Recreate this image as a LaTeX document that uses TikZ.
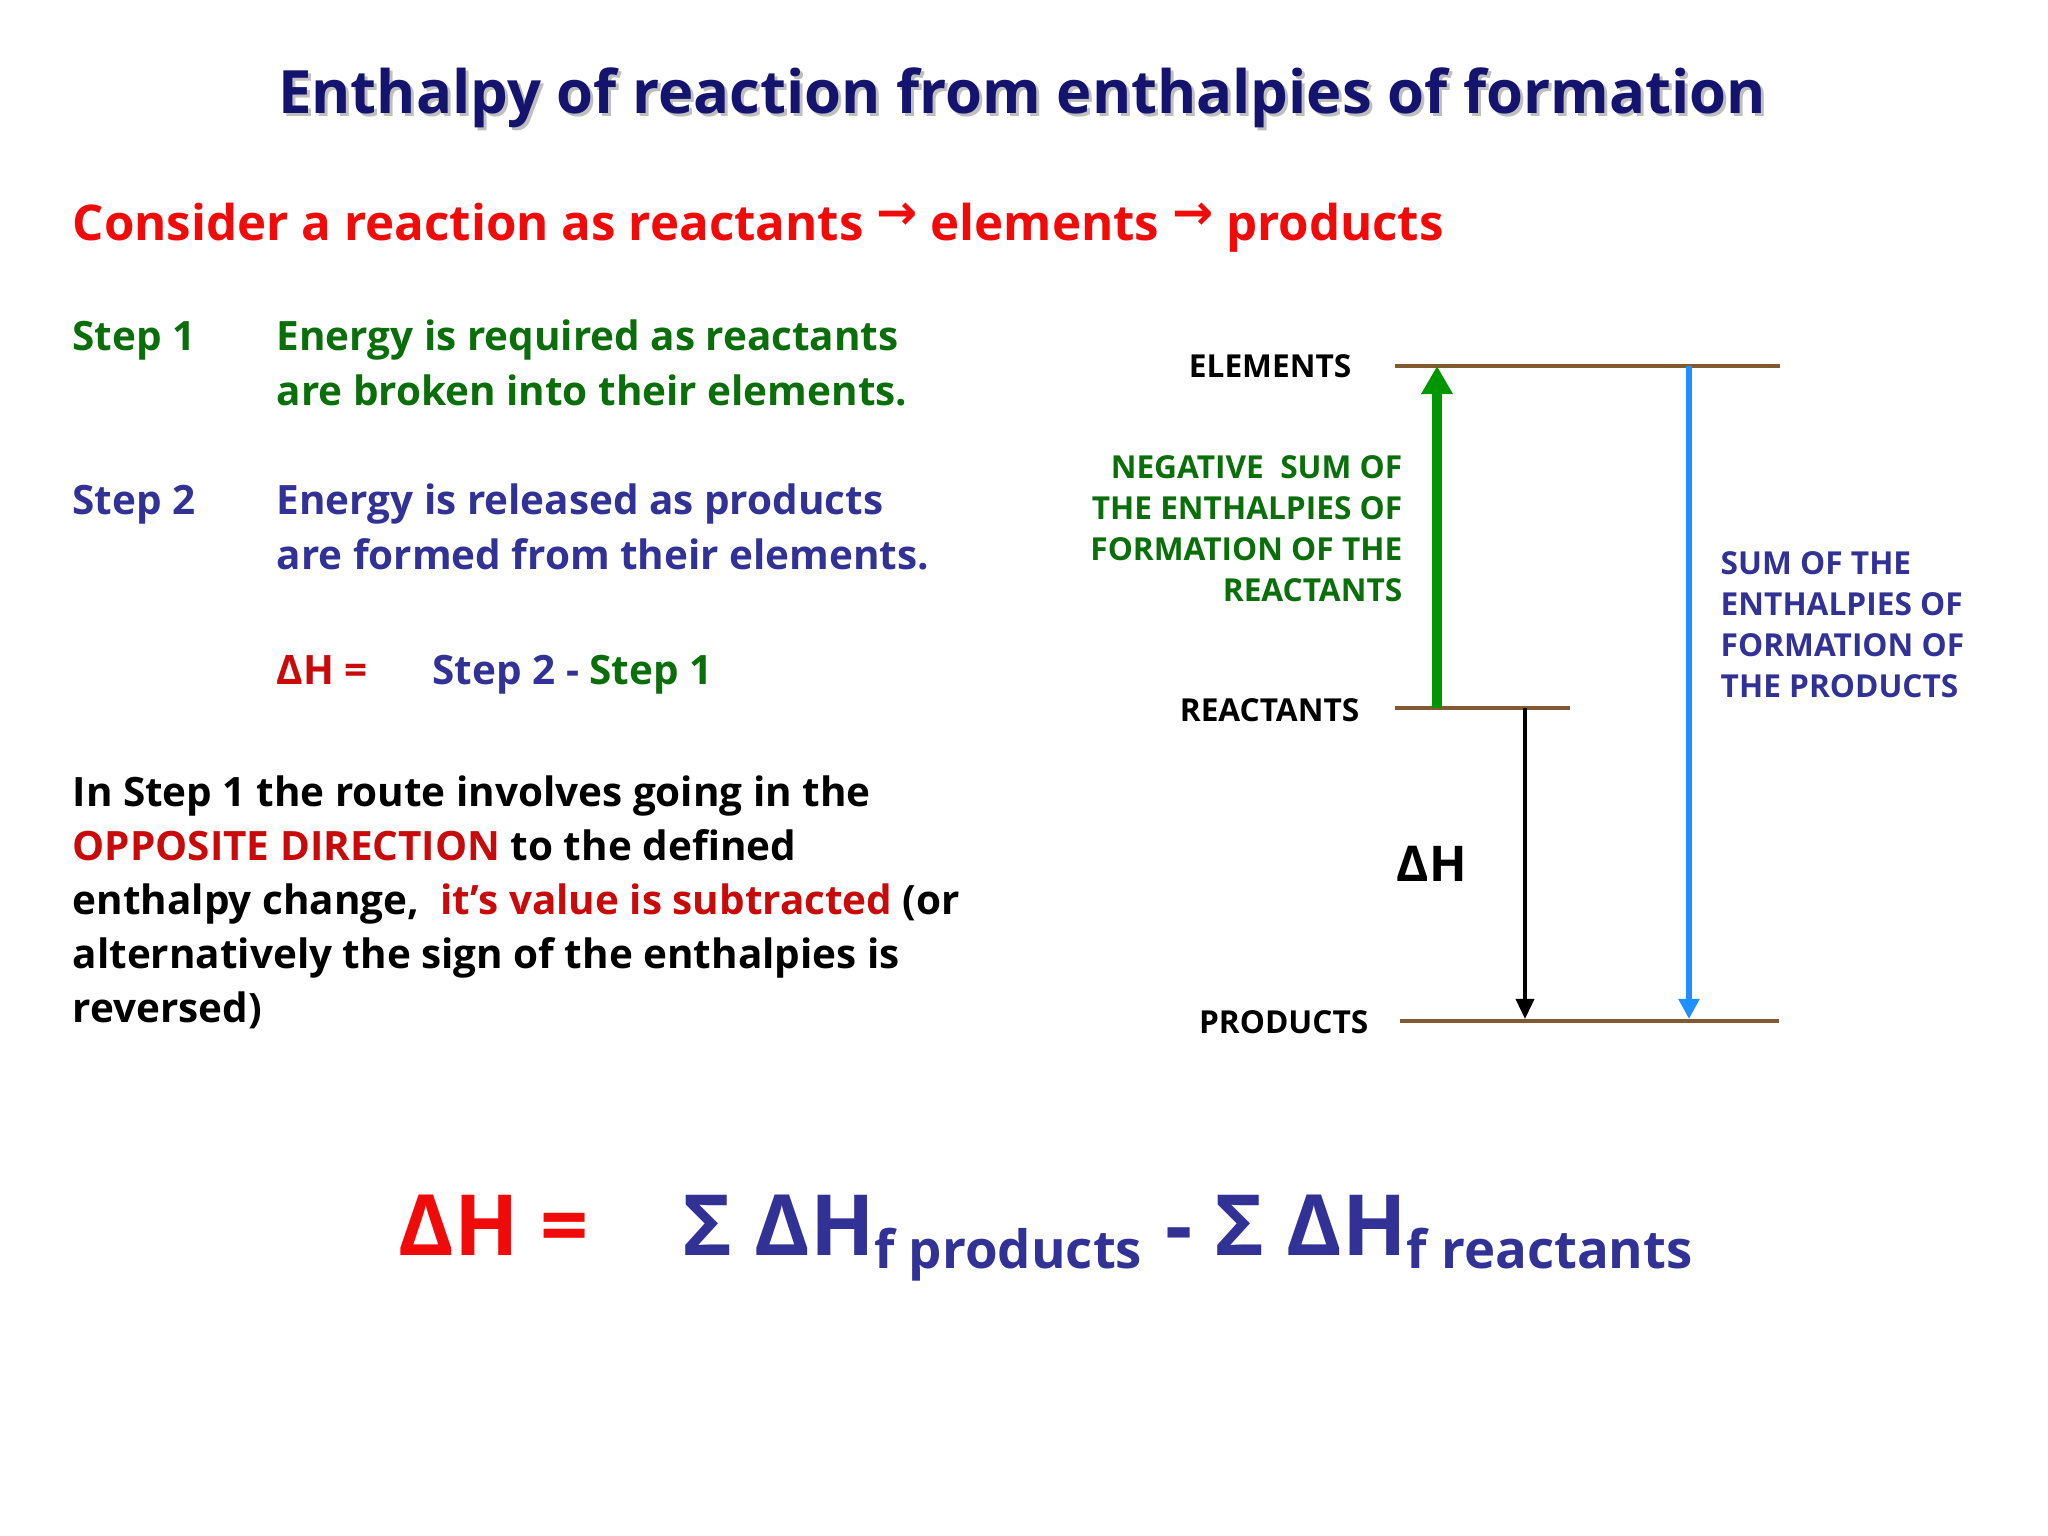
\documentclass[tikz,border=0pt]{standalone}
\usepackage{fontspec}
\setmainfont{Open Sans}
\newfontfamily\arrowfont{DejaVu Sans}
\usetikzlibrary{arrows.meta}
\definecolor{navy}{RGB}{20,20,110}
\definecolor{tred}{RGB}{240,10,10}
\definecolor{dred}{RGB}{200,10,10}
\definecolor{tgreen}{RGB}{10,110,10}
\definecolor{tblue}{RGB}{50,50,150}
\definecolor{brownl}{RGB}{130,90,50}
\definecolor{lblue}{RGB}{30,144,255}
\definecolor{agreen}{RGB}{0,150,0}
\begin{document}
\begin{tikzpicture}[x=0.01cm,y=-0.01cm,
  txt/.style={anchor=base west,inner sep=0,font=\bfseries\fontsize{11.5}{14}\selectfont},
  lab/.style={inner sep=0,font=\bfseries\fontsize{9}{12}\selectfont},
  lvl/.style={draw=brownl,line width=1.4pt}]
\useasboundingbox[fill=white] (0,0) rectangle (2048,1536);
\node[inner sep=0,text=gray!50,font=\bfseries\fontsize{17}{20}\selectfont] at (1025,101) {Enthalpy of reaction from enthalpies of formation};
\node (title)[inner sep=0,text=navy,font=\bfseries\fontsize{17}{20}\selectfont] at (1022,98) {Enthalpy of reaction from enthalpies of formation};
\node (cons)[txt,text=tred,font=\bfseries\fontsize{14}{17}\selectfont] at (72,240) {Consider a reaction as reactants \raisebox{3pt}{\arrowfont →} elements \raisebox{3pt}{\arrowfont →} products};
\node (s1)[txt,text=tgreen] at (72,350) {Step 1};
\node (s1a)[txt,text=tgreen] at (276,350) {Energy is required as reactants};
\node (s1b)[txt,text=tgreen] at (276,405) {are broken into their elements.};
\node (s2)[txt,text=tblue] at (72,514) {Step 2};
\node (s2a)[txt,text=tblue] at (276,514) {Energy is released as products};
\node (s2b)[txt,text=tblue] at (276,569) {are formed from their elements.};
\node (dh)[txt,text=dred] at (276,684) {ΔH =};
\node (dh2)[txt,text=tblue] at (432,684) {Step 2 - \textcolor{tgreen}{Step 1}};
\node (p1)[txt] at (72,806) {In Step 1 the route involves going in the};
\node (p2)[txt] at (72,860) {\textcolor{dred}{OPPOSITE DIRECTION} to the defined};
\node (p3)[txt] at (72,914) {enthalpy change,\ \ \textcolor{dred}{it’s value is subtracted} (or};
\node (p4)[txt] at (72,968) {alternatively the sign of the enthalpies is};
\node (p5)[txt] at (72,1022) {reversed)};
\coordinate (e1) at (1395,366); \coordinate (e2) at (1780,366);
\coordinate (r1) at (1395,708); \coordinate (r2) at (1570,708);
\coordinate (q1) at (1400,1021); \coordinate (q2) at (1779,1021);
\draw[lvl] (e1)--(e2); \draw[lvl] (r1)--(r2); \draw[lvl] (q1)--(q2);
\node (le)[lab,anchor=east] at (1352,366) {ELEMENTS};
\node (lr)[lab,anchor=east] at (1360,710) {REACTANTS};
\node (lp)[lab,anchor=east] at (1369,1022) {PRODUCTS};
\coordinate (ga) at (1437,708); \coordinate (gb) at (1437,366);
\coordinate (ba) at (1525,708); \coordinate (bb) at (1525,1019);
\coordinate (ua) at (1689,366); \coordinate (ub) at (1689,1019);
\draw[agreen,line width=2.6pt,-{Triangle[length=8pt,width=8.5pt]}] (ga)--(gb);
\draw[black,line width=1.1pt,-{Triangle[length=5.7pt,width=5.1pt]}] (ba)--(bb);
\draw[lblue,line width=1.7pt,-{Triangle[length=5.7pt,width=5.7pt]}] (ua)--(ub);
\node (gl)[lab,anchor=north east,align=right,text=tgreen,font=\bfseries\fontsize{9}{11.6}\selectfont] at (1403,455) {NEGATIVE\ \ SUM OF\\THE ENTHALPIES OF\\FORMATION OF THE\\REACTANTS};
\node (bl)[lab,anchor=north west,align=left,text=tblue,font=\bfseries\fontsize{9}{11.6}\selectfont] at (1720,551) {SUM OF THE\\ENTHALPIES OF\\FORMATION OF\\THE PRODUCTS};
\node (dhl)[lab,font=\bfseries\fontsize{14}{17}\selectfont] at (1432,864) {ΔH};
\node (f1)[txt,text=tred,font=\bfseries\fontsize{24}{28}\selectfont] at (398,1255) {ΔH =};
\node (f2)[txt,text=tblue,font=\bfseries\fontsize{24}{28}\selectfont] at (682,1255) {Σ ΔH\textsubscript{\fontsize{15}{15}\selectfont f products} - Σ ΔH\textsubscript{\fontsize{15}{15}\selectfont f reactants}};
\end{tikzpicture}
\end{document}
